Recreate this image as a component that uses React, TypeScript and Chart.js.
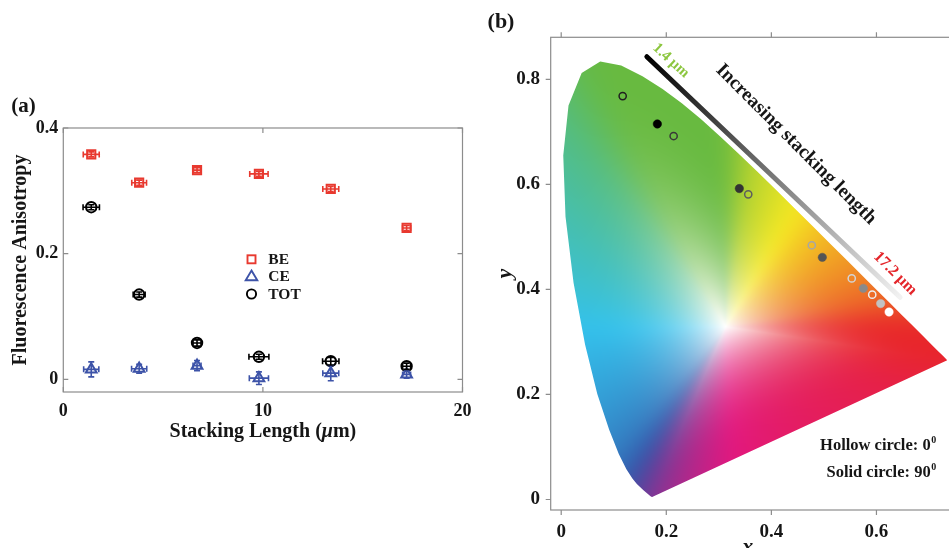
import React, { useEffect, useRef } from 'react';
import { Chart, registerables } from 'chart.js';

Chart.register(...registerables);

const FONT = "'Liberation Serif', 'Times New Roman', Times, serif";
const INK = '#161616';

// ---------------- Panel (a) data ----------------
const stackingLength = [1.4, 3.8, 6.7, 9.8, 13.4, 17.2];
const beAnisotropy = [0.358, 0.313, 0.333, 0.327, 0.303, 0.241];
const ceAnisotropy = [0.016, 0.017, 0.022, 0.002, 0.010, 0.008];
const totAnisotropy = [0.274, 0.135, 0.058, 0.036, 0.029, 0.021];
const beLengthErr = [0.4, 0.37, 0.18, 0.46, 0.4, 0.2];
const beAnisoErr = [0.004, 0.004, 0.004, 0.004, 0.004, 0.004];
const ceLengthErr = [0.38, 0.38, 0.2, 0.48, 0.4, 0.2];
const ceAnisoErr = [0.012, 0.007, 0.008, 0.01, 0.012, 0.006];
const totLengthErr = [0.41, 0.3, 0.2, 0.5, 0.41, 0.2];
const totAnisoErr = [0.004, 0.004, 0.005, 0.004, 0.006, 0.005];
const seriesNamesA = ['BE', 'CE', 'TOT'];
const seriesColorsA = ['#e8392f', '#3d53a8', '#000000'];
const xTicksA = [0, 10, 20];
const yTicksA = [0, 0.2, 0.4];

// ---------------- Panel (b) data ----------------
const hollowX = [0.117, 0.214, 0.356, 0.477, 0.553, 0.592];
const hollowY = [0.768, 0.692, 0.581, 0.484, 0.421, 0.39];
const hollowShade = ['#202020', '#383838', '#5e5e5e', '#a6a6a6', '#d4d4d4', '#ededed'];
const solidX = [0.183, 0.339, 0.497, 0.575, 0.608, 0.624];
const solidY = [0.715, 0.592, 0.461, 0.402, 0.373, 0.357];
const solidShade = ['#000000', '#333333', '#555555', '#8a8a8a', '#c2c2c2', '#ffffff'];
// CIE 1931 spectral locus (380-700 nm)
const locusX = [0.1741, 0.1733, 0.1714, 0.1689, 0.1644, 0.1566, 0.144, 0.1355, 0.1241, 0.1096, 0.0913, 0.0687, 0.0454, 0.0235, 0.0082, 0.0039, 0.0139, 0.0389, 0.0743, 0.1142, 0.1547, 0.1929, 0.2296, 0.2658, 0.3016, 0.3373, 0.3731, 0.4087, 0.4441, 0.4788, 0.5125, 0.5448, 0.5752, 0.6029, 0.627, 0.6482, 0.6658, 0.6915, 0.7079, 0.719, 0.726, 0.7334, 0.7347];
const locusY = [0.005, 0.0048, 0.0051, 0.0069, 0.0109, 0.0177, 0.0297, 0.0399, 0.0578, 0.0868, 0.1327, 0.2007, 0.295, 0.4127, 0.5384, 0.6548, 0.7502, 0.812, 0.8338, 0.8262, 0.8059, 0.7816, 0.7543, 0.7243, 0.6923, 0.6589, 0.6245, 0.5896, 0.5547, 0.5202, 0.4866, 0.4544, 0.4242, 0.3965, 0.3725, 0.3514, 0.334, 0.3083, 0.292, 0.2809, 0.274, 0.2666, 0.2653];
const whitePoint = [0.3127, 0.329];
const lengthBarX = [0.163, 0.645];
const lengthBarY = [0.843, 0.385];
const xTicksB = [0, 0.2, 0.4, 0.6];
const yTicksB = [0, 0.2, 0.4, 0.6, 0.8];

// ---------------- helpers ----------------
function fmtTick(v: number): string {
  if (Math.abs(v) < 1e-9) return '0';
  return String(Math.round(v * 100) / 100);
}

function fixedTicks(values: number[]) {
  return (scale: any) => {
    scale.ticks = values.map((v) => ({ value: v }));
  };
}

function framePlugin(xTicks: number[], yTicks: number[], inward: boolean, len: number) {
  return {
    id: 'frameTicks',
    afterDatasetsDraw(chart: any) {
      const { ctx, chartArea: a, scales } = chart;
      const xs = scales.x;
      const ys = scales.y;
      const d = inward ? 1 : -1;
      ctx.save();
      ctx.strokeStyle = '#8c8c8c';
      ctx.lineWidth = 1.2;
      ctx.strokeRect(a.left, a.top, a.right - a.left, a.bottom - a.top);
      ctx.beginPath();
      xTicks.forEach((v) => {
        const px = xs.getPixelForValue(v);
        ctx.moveTo(px, a.bottom);
        ctx.lineTo(px, a.bottom - d * len);
        ctx.moveTo(px, a.top);
        ctx.lineTo(px, a.top + d * len);
      });
      yTicks.forEach((v) => {
        const py = ys.getPixelForValue(v);
        ctx.moveTo(a.left, py);
        ctx.lineTo(a.left + d * len, py);
        ctx.moveTo(a.right, py);
        ctx.lineTo(a.right - d * len, py);
      });
      ctx.stroke();
      ctx.restore();
    },
  };
}

function text(ctx: CanvasRenderingContext2D, s: string, x: number, y: number, font: string, color: string, align: CanvasTextAlign = 'center', baseline: CanvasTextBaseline = 'middle', rot = 0) {
  ctx.save();
  ctx.translate(x, y);
  ctx.rotate(rot);
  ctx.font = font;
  ctx.fillStyle = color;
  ctx.textAlign = align;
  ctx.textBaseline = baseline;
  ctx.fillText(s, 0, 0);
  ctx.restore();
}

function pts(xs: number[], ys: number[]) {
  return xs.map((x, i) => ({ x, y: ys[i] }));
}

// ---------------- Panel (a) ----------------
const errorsA: Record<string, number[][]> = {
  BE: [beLengthErr, beAnisoErr],
  CE: [ceLengthErr, ceAnisoErr],
  TOT: [totLengthErr, totAnisoErr],
};

const errorBarPlugin = {
  id: 'errorBars',
  afterDatasetsDraw(chart: any) {
    const { ctx, scales } = chart;
    const xs = scales.x;
    const ys = scales.y;
    chart.data.datasets.forEach((ds: any) => {
      const [xe, ye] = errorsA[ds.label];
      ctx.save();
      ctx.strokeStyle = ds.pointBorderColor;
      ctx.lineWidth = 1.6;
      ctx.beginPath();
      ds.data.forEach((p: any, i: number) => {
        const px = xs.getPixelForValue(p.x);
        const py = ys.getPixelForValue(p.y);
        const x0 = xs.getPixelForValue(p.x - xe[i]);
        const x1 = xs.getPixelForValue(p.x + xe[i]);
        const y0 = ys.getPixelForValue(p.y - ye[i]);
        const y1 = ys.getPixelForValue(p.y + ye[i]);
        ctx.moveTo(x0, py); ctx.lineTo(x1, py);
        ctx.moveTo(x0, py - 3); ctx.lineTo(x0, py + 3);
        ctx.moveTo(x1, py - 3); ctx.lineTo(x1, py + 3);
        ctx.moveTo(px, y0); ctx.lineTo(px, y1);
        ctx.moveTo(px - 3, y0); ctx.lineTo(px + 3, y0);
        ctx.moveTo(px - 3, y1); ctx.lineTo(px + 3, y1);
      });
      ctx.stroke();
      ctx.restore();
    });
  },
};

const annotationsA = {
  id: 'annotationsA',
  afterDraw(chart: any) {
    const { ctx, chartArea: a } = chart;
    text(ctx, '(a)', 23.5, 106.5, `bold 21px ${FONT}`, INK);
    text(ctx, 'Fluorescence Anisotropy', 21, (a.top + a.bottom) / 2, `bold 20px ${FONT}`, INK, 'center', 'middle', -Math.PI / 2);
    const parts = [
      { t: 'Stacking Length (', f: `bold 20px ${FONT}` },
      { t: 'μ', f: `italic bold 20px ${FONT}` },
      { t: 'm)', f: `bold 20px ${FONT}` },
    ];
    ctx.save();
    let total = 0;
    parts.forEach((p) => { ctx.font = p.f; total += ctx.measureText(p.t).width; });
    ctx.restore();
    let x = (a.left + a.right) / 2 - total / 2;
    parts.forEach((p) => {
      text(ctx, p.t, x, 432, p.f, INK, 'left', 'middle');
      ctx.save(); ctx.font = p.f; x += ctx.measureText(p.t).width; ctx.restore();
    });
    const mx = 251.5;
    const rows = [259.3, 276, 294];
    ctx.save();
    ctx.lineWidth = 1.9;
    ctx.strokeStyle = seriesColorsA[0];
    ctx.strokeRect(mx - 4, rows[0] - 4, 8, 8);
    ctx.strokeStyle = seriesColorsA[1];
    ctx.beginPath();
    ctx.moveTo(mx, rows[1] - 5.5);
    ctx.lineTo(mx + 5.8, rows[1] + 4.2);
    ctx.lineTo(mx - 5.8, rows[1] + 4.2);
    ctx.closePath();
    ctx.stroke();
    ctx.strokeStyle = seriesColorsA[2];
    ctx.beginPath();
    ctx.arc(mx, rows[2], 4.6, 0, Math.PI * 2);
    ctx.stroke();
    ctx.restore();
    seriesNamesA.forEach((n, i) => text(ctx, n, 268.3, rows[i] + 0.5, `bold 15.5px ${FONT}`, INK, 'left', 'middle'));
  },
};

function PanelA() {
  const ref = useRef<HTMLCanvasElement>(null);
  useEffect(() => {
    const tickFont = { family: FONT, size: 18, weight: 'bold' as const };
    const values = [beAnisotropy, ceAnisotropy, totAnisotropy];
    const styles = ['rect', 'triangle', 'circle'];
    const radii = [5.8, 6.2, 5.2];
    const chart = new Chart(ref.current as HTMLCanvasElement, {
      type: 'scatter',
      data: {
        datasets: seriesNamesA.map((name, i) => ({
          label: name,
          data: pts(stackingLength, values[i]),
          pointStyle: styles[i] as any,
          pointRadius: radii[i],
          pointBorderWidth: 2,
          pointBorderColor: seriesColorsA[i],
          pointBackgroundColor: 'rgba(0,0,0,0)',
          borderColor: seriesColorsA[i],
          backgroundColor: 'rgba(0,0,0,0)',
        })),
      },
      options: {
        animation: false,
        responsive: false,
        devicePixelRatio: 1,
        events: [],
        layout: { padding: { left: 0, right: 10, top: 128, bottom: 96 } },
        plugins: { legend: { display: false }, tooltip: { enabled: false } },
        scales: {
          x: {
            type: 'linear',
            min: 0,
            max: 20,
            afterBuildTicks: fixedTicks(xTicksA),
            afterFit: (s: any) => { s.height = 60; },
            grid: { display: false, drawTicks: false },
            border: { display: false },
            ticks: { padding: 8.5, color: INK, font: tickFont, maxRotation: 0, autoSkip: false, callback: (v: any) => fmtTick(Number(v)) },
          },
          y: {
            type: 'linear',
            min: -0.02,
            max: 0.4,
            afterBuildTicks: fixedTicks(yTicksA),
            afterFit: (s: any) => { s.width = 63.3; },
            grid: { display: false, drawTicks: false },
            border: { display: false },
            ticks: { padding: 5, color: INK, font: tickFont, autoSkip: false, callback: (v: any) => fmtTick(Number(v)) },
          },
        },
      },
      plugins: [errorBarPlugin, framePlugin(xTicksA, yTicksA, true, 5), annotationsA],
    });
    return () => chart.destroy();
  }, []);
  return <canvas ref={ref} width={480} height={548} style={{ position: 'absolute', left: 0, top: 0, width: 480, height: 548 }} />;
}

// ---------------- Panel (b) ----------------
const CORNERS: number[][] = [
  [0, 0, 0], // K
  [52, 80, 166], // B
  [104, 186, 64], // G
  [52, 194, 236], // C
  [232, 38, 42], // R
  [226, 24, 128], // M
  [246, 232, 34], // Y
  [255, 255, 255], // W
];

function gammaEnc(v: number) {
  return v <= 0.0031308 ? 12.92 * v : 1.055 * Math.pow(v, 1 / 2.4) - 0.055;
}

function chromaColor(cx: number, cy: number): number[] {
  const X = cx / cy;
  const Z = Math.max(0, (1 - cx - cy) / cy);
  let r = 3.2406 * X - 1.5372 - 0.4986 * Z;
  let g = -0.9689 * X + 1.8758 + 0.0415 * Z;
  let b = 0.0557 * X - 0.204 + 1.057 * Z;
  r = Math.max(r, 0); g = Math.max(g, 0); b = Math.max(b, 0);
  const m = Math.max(r, g, b, 1e-6);
  r = gammaEnc(r / m); g = gammaEnc(g / m); b = gammaEnc(b / m);
  const out = [0, 0, 0];
  for (let k = 0; k < 8; k++) {
    const kr = (k >> 2) & 1, kg = (k >> 1) & 1, kb = k & 1;
    const w = (kr ? r : 1 - r) * (kg ? g : 1 - g) * (kb ? b : 1 - b);
    if (w === 0) continue;
    const c = CORNERS[k];
    out[0] += w * c[0]; out[1] += w * c[1]; out[2] += w * c[2];
  }
  return out;
}

// boundary distance and (angle-smoothed) hue for rays leaving the white point
function buildBoundary(n: number, smoothDeg: number) {
  const dist = new Float64Array(n);
  const raw: number[][] = [];
  const m = locusX.length;
  for (let k = 0; k < n; k++) {
    const th = (k / n) * 2 * Math.PI - Math.PI;
    const dx = Math.cos(th), dy = Math.sin(th);
    let best = Infinity;
    for (let e = 0; e < m; e++) {
      const x1 = locusX[e], y1 = locusY[e];
      const x2 = locusX[(e + 1) % m], y2 = locusY[(e + 1) % m];
      const ex = x2 - x1, ey = y2 - y1;
      const den = dx * ey - dy * ex;
      if (Math.abs(den) < 1e-12) continue;
      const wx = x1 - whitePoint[0], wy = y1 - whitePoint[1];
      const t = (wx * ey - wy * ex) / den;
      const u = (wx * dy - wy * dx) / den;
      if (t > 0 && u >= -1e-9 && u <= 1 + 1e-9 && t < best) best = t;
    }
    if (!isFinite(best)) best = 0.3;
    dist[k] = best;
    const bx = whitePoint[0] + dx * best * 0.99;
    const by = whitePoint[1] + dy * best * 0.99;
    raw.push(chromaColor(Math.max(bx, 0.0005), Math.max(by, 0.002)));
  }
  const H = Math.round((n * smoothDeg) / 360);
  const cols: number[][] = [];
  for (let k = 0; k < n; k++) {
    let sw = 0;
    const acc = [0, 0, 0];
    for (let o = -H; o <= H; o++) {
      const w = H + 1 - Math.abs(o);
      const c = raw[(k + o + n) % n];
      acc[0] += w * c[0]; acc[1] += w * c[1]; acc[2] += w * c[2];
      sw += w;
    }
    cols.push([acc[0] / sw, acc[1] / sw, acc[2] / sw]);
  }
  return { dist, cols };
}

const gamutPlugin = {
  id: 'gamut',
  beforeDatasetsDraw(chart: any) {
    const { ctx, chartArea: a, scales } = chart;
    const xs = scales.x;
    const ys = scales.y;
    const N = 1440;
    const { dist, cols } = buildBoundary(N, 9);
    const w = Math.ceil(a.right - a.left);
    const h = Math.ceil(a.bottom - a.top);
    const off = document.createElement('canvas');
    off.width = w; off.height = h;
    const octx = off.getContext('2d') as CanvasRenderingContext2D;
    const img = octx.createImageData(w, h);
    const d = img.data;
    for (let j = 0; j < h; j++) {
      const cy = ys.getValueForPixel(a.top + j + 0.5);
      for (let i = 0; i < w; i++) {
        const cx = xs.getValueForPixel(a.left + i + 0.5);
        const dx = cx - whitePoint[0], dy = cy - whitePoint[1];
        const r = Math.sqrt(dx * dx + dy * dy);
        const pos = ((Math.atan2(dy, dx) + Math.PI) / (2 * Math.PI)) * N;
        const k0 = Math.floor(pos) % N;
        const k1 = (k0 + 1) % N;
        const fr = pos - Math.floor(pos);
        const bd = dist[k0] * (1 - fr) + dist[k1] * fr;
        const c0 = cols[k0], c1 = cols[k1];
        let s = r / bd;
        if (s > 1) s = 1;
        const f = 1 - Math.pow(1 - s, 2.6);
        const k = (j * w + i) * 4;
        for (let q = 0; q < 3; q++) {
          const hue = c0[q] * (1 - fr) + c1[q] * fr;
          d[k + q] = 255 * (1 - f) + hue * f;
        }
        d[k + 3] = 255;
      }
    }
    octx.putImageData(img, 0, 0);
    ctx.save();
    ctx.beginPath();
    locusX.forEach((vx, i) => {
      const px = xs.getPixelForValue(vx);
      const py = ys.getPixelForValue(locusY[i]);
      if (i === 0) ctx.moveTo(px, py); else ctx.lineTo(px, py);
    });
    ctx.closePath();
    ctx.clip();
    ctx.drawImage(off, a.left, a.top);
    ctx.restore();
  },
};

const annotationsB = {
  id: 'annotationsB',
  afterDraw(chart: any) {
    const { ctx, chartArea: a, scales } = chart;
    const xs = scales.x;
    const ys = scales.y;
    const P = (x: number, y: number) => [xs.getPixelForValue(x), ys.getPixelForValue(y)];
    text(ctx, '(b)', 21, 22, `bold 22px ${FONT}`, INK);
    text(ctx, 'y', 25, (a.top + a.bottom) / 2, `italic bold 22px ${FONT}`, INK, 'center', 'middle', -Math.PI / 2);
    text(ctx, 'x', xs.getPixelForValue(0.355), 553, `italic bold 22px ${FONT}`, INK, 'center', 'alphabetic');
    let p = P(0.4468, 0.676);
    text(ctx, 'Increasing stacking length', p[0], p[1], `bold 19.5px ${FONT}`, INK, 'center', 'middle', Math.PI / 4);
    p = P(0.2088, 0.8355);
    text(ctx, '1.4 μm', p[0], p[1], `bold 15px ${FONT}`, '#8cc63f', 'center', 'middle', 0.74);
    p = P(0.6356, 0.4303);
    text(ctx, '17.2 μm', p[0], p[1], `bold 16px ${FONT}`, '#e4262b', 'center', 'middle', Math.PI / 4);
    const legend = [
      { t: 'Hollow circle: 0', y: 0.0939 },
      { t: 'Solid circle: 90', y: 0.043 },
    ];
    legend.forEach((l) => {
      const [rx, by] = P(0.7136, l.y);
      ctx.save();
      ctx.font = `bold 10px ${FONT}`;
      const sw = ctx.measureText('0').width;
      ctx.restore();
      text(ctx, '0', rx, by - 7, `bold 10px ${FONT}`, INK, 'right', 'alphabetic');
      text(ctx, l.t, rx - sw - 0.5, by, `bold 16.5px ${FONT}`, INK, 'right', 'alphabetic');
    });
  },
};

function PanelB() {
  const ref = useRef<HTMLCanvasElement>(null);
  useEffect(() => {
    const tickFont = { family: FONT, size: 19, weight: 'bold' as const };
    const chart = new Chart(ref.current as HTMLCanvasElement, {
      type: 'scatter',
      data: {
        datasets: [
          {
            label: 'Hollow circle: 0°',
            data: pts(hollowX, hollowY),
            pointRadius: 3.6,
            pointBorderWidth: 1.5,
            pointBorderColor: hollowShade,
            pointBackgroundColor: 'rgba(0,0,0,0)',
            backgroundColor: 'rgba(0,0,0,0)',
            borderColor: hollowShade,
          },
          {
            label: 'Solid circle: 90°',
            data: pts(solidX, solidY),
            pointRadius: 4.2,
            pointBorderWidth: 0.5,
            pointBorderColor: solidShade,
            pointBackgroundColor: solidShade,
            backgroundColor: solidShade,
            borderColor: solidShade,
          },
          {
            label: 'Increasing stacking length',
            data: pts(lengthBarX, lengthBarY),
            showLine: true,
            pointRadius: 0,
            borderWidth: 5,
            borderCapStyle: 'round',
            borderColor: (c: any) => {
              const ch = c.chart;
              const xs = ch.scales && ch.scales.x;
              const ys = ch.scales && ch.scales.y;
              if (!xs || !ys || !ch.chartArea) return '#777777';
              const g = ch.ctx.createLinearGradient(
                xs.getPixelForValue(lengthBarX[0]), ys.getPixelForValue(lengthBarY[0]),
                xs.getPixelForValue(lengthBarX[1]), ys.getPixelForValue(lengthBarY[1]));
              g.addColorStop(0, '#000000');
              g.addColorStop(1, '#f2f2f2');
              return g;
            },
          } as any,
        ],
      },
      options: {
        animation: false,
        responsive: false,
        devicePixelRatio: 1,
        events: [],
        layout: { padding: { left: 0, right: 10, top: 37.3, bottom: 30 } },
        plugins: { legend: { display: false }, tooltip: { enabled: false } },
        scales: {
          x: {
            type: 'linear',
            min: -0.02,
            max: 0.74,
            afterBuildTicks: fixedTicks(xTicksB),
            afterFit: (s: any) => { s.height = 40; },
            grid: { display: false, drawTicks: false },
            border: { display: false },
            ticks: { padding: 11, color: INK, font: tickFont, maxRotation: 0, autoSkip: false, callback: (v: any) => fmtTick(Number(v)) },
          },
          y: {
            type: 'linear',
            min: -0.02,
            max: 0.88,
            afterBuildTicks: fixedTicks(yTicksB),
            afterFit: (s: any) => { s.width = 70.7; },
            grid: { display: false, drawTicks: false },
            border: { display: false },
            ticks: { padding: 10.7, color: INK, font: tickFont, autoSkip: false, callback: (v: any) => fmtTick(Number(v)) },
          },
        },
      },
      plugins: [gamutPlugin, framePlugin(xTicksB, yTicksB, false, 5), annotationsB],
    });
    return () => chart.destroy();
  }, []);
  return <canvas ref={ref} width={480} height={580} style={{ position: 'absolute', left: 480, top: 0, width: 480, height: 580 }} />;
}

export default function App() {
  return (
    <div style={{ position: 'fixed', left: 0, top: 0, width: 949, height: 548, overflow: 'hidden', background: '#ffffff' }}>
      <PanelA />
      <PanelB />
    </div>
  );
}
